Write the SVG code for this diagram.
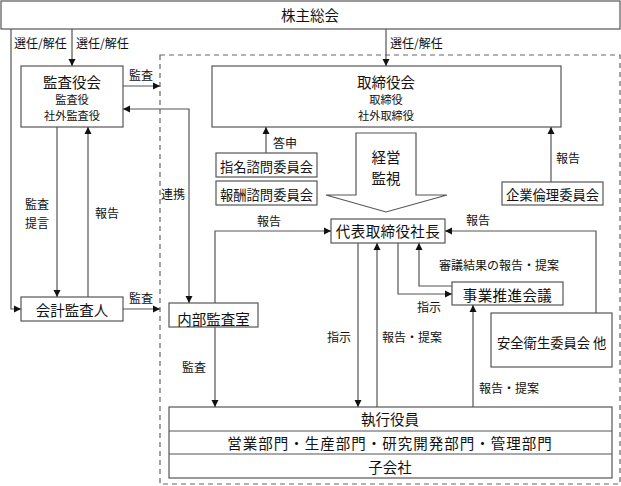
<svg xmlns="http://www.w3.org/2000/svg" width="621" height="486" viewBox="0 0 621 486">
<defs>
<marker id="ah" markerWidth="8" markerHeight="8" refX="7" refY="4" orient="auto-start-reverse" markerUnits="userSpaceOnUse">
<path d="M0,0.5 L7,4 L0,7.5 Z" fill="#111"/>
</marker>
<style>
text{font-family:"Noto Sans CJK JP","Noto Sans CJK SC",sans-serif;fill:#111;text-anchor:middle}
.box{fill:#fff;stroke:#555;stroke-width:1.2}
.ln{fill:none;stroke:#555;stroke-width:1.2}
.lbl{font-size:12px;text-anchor:start}
.st{text-anchor:start}
.t14{font-size:14.5px}
.t13{font-size:13.3px}
.t12{font-size:11.2px}
</style>
</defs>
<rect width="621" height="486" fill="#fff"/>
<rect x="160" y="55" width="460" height="429" fill="none" stroke="#666" stroke-width="1.2" stroke-dasharray="5,4"/>

<g id="kabunushi"><rect class="box" x="1" y="1" width="619" height="28"/><text class="t14" x="310" y="21">株主総会</text></g>
<g id="kansayakukai"><rect class="box" x="21" y="66" width="102" height="61"/><text class="t14" x="72" y="87.5">監査役会</text><text class="t12" x="72" y="104">監査役</text><text class="t12" x="72" y="120">社外監査役</text></g>
<g id="torishimariyakukai"><rect class="box" x="212" y="66" width="349" height="61"/><text class="t14" x="386" y="87.5">取締役会</text><text class="t12" x="386" y="104">取締役</text><text class="t12" x="386" y="120">社外取締役</text></g>
<g id="shimei"><rect class="box" x="216" y="153" width="101" height="24"/><text class="t13" x="266.5" y="171.5">指名諮問委員会</text></g>
<g id="houshu"><rect class="box" x="216" y="181" width="101" height="24"/><text class="t13" x="266.5" y="199.5">報酬諮問委員会</text></g>
<g id="keiei"><polygon points="356,133 416,133 416,195 447,195 386,212 326,195 356,195" fill="#fff" stroke="#555" stroke-width="1.2"/><text class="t14" x="386" y="162.5">経営</text><text class="t14" x="386" y="183.5">監視</text></g>
<g id="kigyourinri"><rect class="box" x="502" y="182" width="101" height="23"/><text class="t13" x="552.5" y="200">企業倫理委員会</text></g>
<g id="daihyou"><rect class="box" x="331" y="219" width="114" height="24"/><text class="t14" x="388" y="237" letter-spacing="0.4">代表取締役社長</text></g>
<g id="jigyou"><rect class="box" x="452" y="282" width="111" height="23"/><text class="t14" x="507.5" y="300.5" letter-spacing="0.4">事業推進会議</text></g>
<g id="anzen"><rect class="box" x="491" y="313" width="121" height="54"/><text class="t13 st" x="497" y="348">安全衛生委員会<tspan x="593">他</tspan></text></g>
<g id="kaikei"><rect class="box" x="21" y="297" width="102" height="24"/><text class="t14" x="72" y="316">会計監査人</text></g>
<g id="naibu"><rect class="box" x="169" y="303" width="89" height="24"/><text class="t14" x="213.5" y="324.5">内部監査室</text></g>
<g id="shikkou"><rect class="box" x="169" y="407" width="443" height="71"/><line class="ln" x1="169" y1="431" x2="612" y2="431"/><line class="ln" x1="169" y1="454" x2="612" y2="454"/><text class="t14" x="390" y="425">執行役員</text><text class="t14" x="390" y="449" letter-spacing="1">営業部門・生産部門・研究開発部門・管理部門</text><text class="t14" x="390" y="472.5">子会社</text></g>

<g id="connectors">
<path class="ln" d="M11,29 V309 H21" marker-end="url(#ah)"/>
<path class="ln" d="M72,29 V66" marker-end="url(#ah)"/>
<path class="ln" d="M386,29 V66" marker-end="url(#ah)"/>
<path class="ln" d="M123,86 H160" marker-end="url(#ah)"/>
<path class="ln" d="M123,109 H189 V303" marker-start="url(#ah)" marker-end="url(#ah)"/>
<path class="ln" d="M57,127 V297" marker-end="url(#ah)"/>
<path class="ln" d="M88,297 V127" marker-end="url(#ah)"/>
<path class="ln" d="M123,309 H160" marker-end="url(#ah)"/>
<path class="ln" d="M266,153 V127" marker-end="url(#ah)"/>
<path class="ln" d="M551,182 V127" marker-end="url(#ah)"/>
<path class="ln" d="M215,303 V231 H331" marker-end="url(#ah)"/>
<path class="ln" d="M596,313 V231 H445" marker-end="url(#ah)"/>
<path class="ln" d="M398,243 V294 H452" marker-end="url(#ah)"/>
<path class="ln" d="M452,286 H419 V243" marker-end="url(#ah)"/>
<path class="ln" d="M358,243 V407" marker-end="url(#ah)"/>
<path class="ln" d="M377,407 V243" marker-end="url(#ah)"/>
<path class="ln" d="M473,407 V305" marker-end="url(#ah)"/>
<path class="ln" d="M215,327 V407" marker-end="url(#ah)"/>
</g>

<g id="labels">
<text class="lbl" x="14" y="47.5">選任/解任</text>
<text class="lbl" x="76" y="47.5">選任/解任</text>
<text class="lbl" x="390" y="47.5">選任/解任</text>
<text class="lbl" x="129" y="80">監査</text>
<text class="lbl" x="161" y="198.5">連携</text>
<text class="lbl" x="25" y="209">監査</text>
<text class="lbl" x="25" y="228">提言</text>
<text class="lbl" x="95" y="218">報告</text>
<text class="lbl" x="129" y="303">監査</text>
<text class="lbl" x="182" y="372">監査</text>
<text class="lbl" x="273" y="148">答申</text>
<text class="lbl" x="556" y="163">報告</text>
<text class="lbl" x="257" y="226">報告</text>
<text class="lbl" x="466" y="225">報告</text>
<text class="lbl" x="439" y="270">審議結果の報告・提案</text>
<text class="lbl" x="417" y="312">指示</text>
<text class="lbl" x="327" y="342">指示</text>
<text class="lbl" x="382" y="342">報告・提案</text>
<text class="lbl" x="479" y="393">報告・提案</text>
</g>
</svg>
